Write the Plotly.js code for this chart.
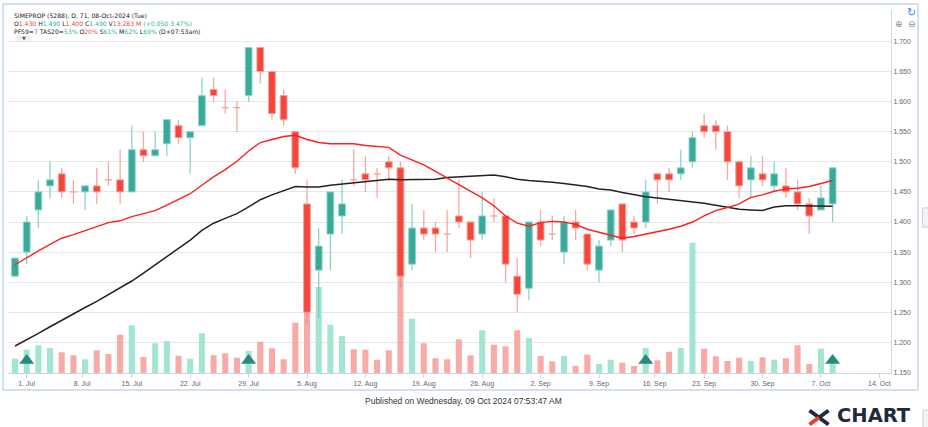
<!DOCTYPE html>
<html><head><meta charset="utf-8">
<script src="https://cdn.plot.ly/plotly-3.0.1.min.js"></script>
<style>html,body{margin:0;padding:0;background:#fff}#chart{width:928px;height:427px}</style>
</head><body><div id="chart"></div>
<script>
// ---------------- DATA ----------------
const dates = [
 '2024-06-28',
 '2024-07-01','2024-07-02','2024-07-03','2024-07-04','2024-07-05',
 '2024-07-09','2024-07-10','2024-07-11','2024-07-12',
 '2024-07-15','2024-07-16','2024-07-17','2024-07-18','2024-07-19',
 '2024-07-22','2024-07-23','2024-07-24','2024-07-25','2024-07-26',
 '2024-07-29','2024-07-30','2024-07-31','2024-08-01','2024-08-02',
 '2024-08-05','2024-08-06','2024-08-07','2024-08-08','2024-08-09',
 '2024-08-12','2024-08-13','2024-08-14','2024-08-15','2024-08-16',
 '2024-08-19','2024-08-20','2024-08-21','2024-08-22','2024-08-23',
 '2024-08-26','2024-08-27','2024-08-28','2024-08-29','2024-08-30',
 '2024-09-02','2024-09-03','2024-09-04','2024-09-05','2024-09-06',
 '2024-09-09','2024-09-10','2024-09-11','2024-09-12','2024-09-13',
 '2024-09-17','2024-09-18','2024-09-19','2024-09-20',
 '2024-09-23','2024-09-24','2024-09-25','2024-09-26','2024-09-27',
 '2024-09-30','2024-10-01','2024-10-02','2024-10-03','2024-10-04',
 '2024-10-07','2024-10-08'
];
const open = [1.31,1.35,1.42,1.46,1.48,1.45,1.45,1.46,1.47,1.47,1.45,1.52,1.51,1.53,1.56,1.54,1.56,1.62,1.59,1.59,
 1.61,1.69,1.65,1.61,1.55,1.43,1.32,1.38,1.41,1.47,1.48,1.48,1.50,1.49,1.33,1.39,1.39,1.38,1.41,1.40,
 1.38,1.41,1.41,1.31,1.29,1.40,1.38,1.35,1.40,1.38,1.32,1.37,1.43,1.40,1.40,1.48,1.48,1.48,1.50,1.56,
 1.56,1.55,1.50,1.47,1.48,1.46,1.46,1.45,1.43,1.42,1.43];
const high = [1.34,1.41,1.47,1.50,1.49,1.47,1.46,1.49,1.50,1.52,1.56,1.55,1.55,1.57,1.57,1.55,1.64,1.64,1.62,1.60,
 1.69,1.69,1.65,1.62,1.55,1.47,1.39,1.45,1.47,1.52,1.51,1.49,1.51,1.50,1.43,1.42,1.40,1.42,1.47,1.40,
 1.45,1.44,1.41,1.34,1.40,1.42,1.41,1.41,1.42,1.38,1.37,1.42,1.43,1.41,1.47,1.48,1.49,1.52,1.55,1.58,
 1.57,1.56,1.50,1.51,1.51,1.50,1.49,1.47,1.44,1.46,1.49];
const low = [1.31,1.33,1.39,1.44,1.44,1.43,1.42,1.43,1.46,1.43,1.45,1.50,1.51,1.51,1.53,1.48,1.56,1.60,1.58,1.55,
 1.60,1.63,1.57,1.56,1.48,1.23,1.24,1.32,1.38,1.46,1.45,1.44,1.47,1.29,1.32,1.37,1.35,1.35,1.39,1.34,
 1.37,1.40,1.30,1.25,1.27,1.36,1.37,1.33,1.37,1.32,1.30,1.36,1.35,1.38,1.39,1.43,1.45,1.47,1.49,1.54,
 1.52,1.47,1.44,1.44,1.46,1.45,1.44,1.42,1.38,1.42,1.40];
const close = [1.34,1.40,1.45,1.47,1.45,1.45,1.46,1.45,1.47,1.45,1.52,1.51,1.52,1.57,1.54,1.55,1.61,1.61,1.59,1.59,
 1.69,1.65,1.58,1.57,1.49,1.25,1.36,1.45,1.43,1.47,1.47,1.48,1.49,1.31,1.39,1.38,1.38,1.38,1.40,1.37,
 1.41,1.41,1.33,1.28,1.40,1.37,1.38,1.40,1.39,1.33,1.36,1.42,1.37,1.39,1.45,1.47,1.47,1.49,1.54,1.55,
 1.55,1.50,1.46,1.49,1.47,1.48,1.45,1.43,1.41,1.44,1.49];
// volume, millions of shares
const volume = [14.3,23.3,27.7,25.0,20.7,17.7,13.7,22.7,19.0,38.3,47.7,16.0,29.7,32.0,17.3,14.3,39.7,17.7,19.7,15.3,
 22.0,31.3,24.7,13.7,50.3,70.0,86.0,48.3,37.0,23.7,23.3,13.3,22.7,100.0,54.3,29.7,14.7,13.7,33.7,17.7,
 42.7,28.3,26.7,42.7,35.0,17.0,11.7,17.0,7.0,18.3,9.0,13.3,10.3,7.0,25.0,12.7,21.3,25.0,130.3,24.3,
 16.7,12.0,15.3,12.0,15.7,13.3,14.7,27.7,9.0,24.3,13.283];
const ma20 = [1.329,1.341,1.352,1.363,1.373,1.379,1.386,1.392,1.399,1.402,1.409,1.414,1.419,1.428,1.438,1.447,1.461,1.475,1.487,1.501,
 1.518,1.532,1.537,1.542,1.544,1.537,1.532,1.530,1.530,1.530,1.527,1.526,1.524,1.511,1.503,1.495,1.484,1.473,1.463,1.452,
 1.440,1.427,1.410,1.398,1.393,1.399,1.401,1.400,1.396,1.388,1.383,1.379,1.373,1.376,1.380,1.383,1.388,1.393,1.400,1.410,
 1.419,1.424,1.430,1.441,1.445,1.451,1.455,1.456,1.459,1.464,1.469];
const ma50 = [1.194,1.204,1.215,1.226,1.237,1.248,1.258,1.268,1.279,1.290,1.302,1.315,1.329,1.342,1.356,1.370,1.386,1.398,1.406,1.414,
 1.425,1.437,1.445,1.452,1.459,1.458,1.458,1.461,1.463,1.465,1.468,1.469,1.471,1.470,1.470,1.470,1.471,1.474,1.475,1.476,
 1.478,1.478,1.475,1.471,1.469,1.468,1.466,1.464,1.462,1.459,1.455,1.453,1.449,1.445,1.442,1.440,1.438,1.435,1.433,1.431,
 1.428,1.424,1.421,1.420,1.419,1.425,1.427,1.427,1.427,1.426,1.426];
const signalDates = ['2024-07-01','2024-07-29','2024-09-13','2024-10-08'];
const tickDates = ['2024-07-01','2024-07-08','2024-07-15','2024-07-22','2024-07-29','2024-08-05','2024-08-12','2024-08-19',
 '2024-08-26','2024-09-02','2024-09-09','2024-09-16','2024-09-23','2024-09-30','2024-10-07','2024-10-14'];
const tickLabels = ['1. Jul','8. Jul','15. Jul','22. Jul','29. Jul','5. Aug','12. Aug','19. Aug',
 '26. Aug','2. Sep','9. Sep','16. Sep','23. Sep','30. Sep','7. Oct','14. Oct'];
const priceTicks = [1.15,1.20,1.25,1.30,1.35,1.40,1.45,1.50,1.55,1.60,1.65,1.70];

// ---------------- STYLE ----------------
const C = {
  upBody:'#38aa9a', dnBody:'#f4463a', upWick:'rgba(100,196,180,0.75)', dnWick:'rgba(243,130,124,0.7)',
  upVol:'#a2e5d1', dnVol:'#f8aaa7', doji:'#f5a09b', sig:'#2b8a7e', ma20:'#ff1f1f', ma50:'#222222',
  grid:'#e6e6e6', axis:'#ccd6eb', tick:'#666666'
};
const FONT = 'Liberation Sans, Arial, sans-serif';
const HFONT = 'DejaVu Sans, Verdana, sans-serif';
const BODY_W = 0.58, WICK_W = 0.11, VOL_W = 0.52, DOJI_H = 0.0022, SIGNAL_LEVEL = 12.5;

// ---------------- HELPERS ----------------
const idx = dates.map((d,i)=>i);
const dayNum = s => Date.parse(s+'T00:00:00Z')/86400000;
const dnums = dates.map(dayNum);
function ordinalPos(s){
  const t = dayNum(s);
  const k = dnums.indexOf(t); if(k>=0) return k;
  for(let i=0;i<dnums.length-1;i++){ if(t>dnums[i] && t<dnums[i+1]) return i+(t-dnums[i])/(dnums[i+1]-dnums[i]); }
  const last = dnums[dnums.length-1];
  if(t>last){ let n=0; for(let d=last+1; d<=t; d++){ const wd=new Date(d*86400000).getUTCDay(); if(wd!==0&&wd!==6) n++; } return dnums.length-1+n; }
  return 0;
}
const isUp = i => close[i] > open[i];
const isDoji = i => close[i] === open[i];
const sel = (f) => idx.filter(f);
const upI = sel(i=>isUp(i)), dnI = sel(i=>!isUp(i)&&!isDoji(i)), djI = sel(i=>isDoji(i));
const volUp = sel(i=>isUp(i)), volDn = sel(i=>!isUp(i));

// pixel -> paper helpers (plot area: x 8..891, y 10..373)
const PL=8, PR=891, PT=10, PB=373;
const PX = px => (px-PL)/(PR-PL);
const PY = py => (PB-py)/(PB-PT);

const traces = [];
traces.push({type:'bar', x:volUp, y:volUp.map(i=>volume[i]), width:VOL_W, marker:{color:C.upVol}, yaxis:'y', hoverinfo:'skip'});
traces.push({type:'bar', x:volDn, y:volDn.map(i=>volume[i]), width:VOL_W, marker:{color:C.dnVol}, yaxis:'y', hoverinfo:'skip'});
const sigI = signalDates.map(d=>dates.indexOf(d));
traces.push({type:'scatter', mode:'markers', x:sigI, y:sigI.map(()=>SIGNAL_LEVEL), yaxis:'y',
  marker:{symbol:'triangle-up', size:13, color:C.sig}, hoverinfo:'skip'});
// wicks
const upW = sel(i=>isUp(i)), dnW = sel(i=>!isUp(i));
traces.push({type:'bar', x:upW, base:upW.map(i=>low[i]), y:upW.map(i=>high[i]-low[i]), width:WICK_W, marker:{color:C.upWick}, yaxis:'y2', hoverinfo:'skip'});
traces.push({type:'bar', x:dnW, base:dnW.map(i=>low[i]), y:dnW.map(i=>high[i]-low[i]), width:WICK_W, marker:{color:C.dnWick}, yaxis:'y2', hoverinfo:'skip'});
// bodies
traces.push({type:'bar', x:upI, base:upI.map(i=>open[i]), y:upI.map(i=>close[i]-open[i]), width:BODY_W,
  marker:{color:C.upBody, line:{color:'#8fd3c8', width:1}}, yaxis:'y2', hoverinfo:'skip'});
traces.push({type:'bar', x:dnI, base:dnI.map(i=>close[i]), y:dnI.map(i=>open[i]-close[i]), width:BODY_W,
  marker:{color:C.dnBody, line:{color:'#f7a19b', width:1}}, yaxis:'y2', hoverinfo:'skip'});
traces.push({type:'bar', x:djI, base:djI.map(i=>close[i]-DOJI_H/2), y:djI.map(()=>DOJI_H), width:BODY_W,
  marker:{color:C.doji}, yaxis:'y2', hoverinfo:'skip'});
// moving averages
traces.push({type:'scatter', mode:'lines', x:idx, y:ma50, line:{color:C.ma50, width:1.5}, yaxis:'y2', hoverinfo:'skip'});
traces.push({type:'scatter', mode:'lines', x:idx, y:ma20, line:{color:C.ma20, width:1.4}, yaxis:'y2', hoverinfo:'skip'});

// header text from last bar
const L = dates.length-1;
const red='#f0443c', grn='#22b892', blu='#3b73d9';
const sp = (c,t)=>`<span style="color:${c}">${t}</span>`;
const chg = close[L]-close[L-1], pct = chg/close[L-1]*100;
const dt = new Date(dnums[L]*86400000);
const mon = ['Jan','Feb','Mar','Apr','May','Jun','Jul','Aug','Sep','Oct','Nov','Dec'][dt.getUTCMonth()];
const wday = ['Sun','Mon','Tue','Wed','Thu','Fri','Sat'][dt.getUTCDay()];
const line1 = `SIMEPROP (5288), D, ${dates.length}, ${String(dt.getUTCDate()).padStart(2,'0')}-${mon}-${dt.getUTCFullYear()} (${wday})`;
const line2 = `O${sp(red,open[L].toFixed(3))} H${sp(grn,high[L].toFixed(3))} L${sp(red,low[L].toFixed(3))} C${sp(grn,close[L].toFixed(3))} V${sp(red,volume[L].toFixed(3)+' M')} ${sp(grn,'(+'+chg.toFixed(3)+' '+pct.toFixed(2)+'%)')}`;
const line3 = `PFS9=${sp(blu,'7')} TAS20=${sp(grn,'53%')} O${sp(red,'20%')} S${sp(grn,'61%')} M${sp(grn,'62%')} L${sp(grn,'69%')} (D+07:53am)`;

const ann = (px,py,text,opts={}) => Object.assign({xref:'paper',yref:'paper',x:PX(px),y:PY(py),text:text,showarrow:false,
  xanchor:'left',yanchor:'middle',font:{family:HFONT,size:6.1,color:'#222'}},opts);

const annotations = [
  ann(11.5,15,line1), ann(11.5,23.2,line2), ann(11.5,31,line3),
  ann(23.5,38,'▼',{xanchor:'center',font:{family:'DejaVu Sans',size:5,color:'#555'}}),
  ann(463.5,401,'Published on Wednesday, 09 Oct 2024 07:53:47 AM',{xanchor:'center',font:{family:FONT,size:8.5,color:'#333'}}),
  ann(874,415.5,'CHART',{xanchor:'center',font:{family:'DejaVu Sans',size:19.5,color:'#1e2b3c',weight:'bold'}}),
  ann(911.5,13,'↻',{xanchor:'center',font:{family:'DejaVu Sans',size:11,color:'#4a8fe0'}}),
  ann(898.5,24,'⊕',{xanchor:'center',font:{family:'DejaVu Sans',size:9,color:'#888'}}),
  ann(911.5,24,'⊖',{xanchor:'center',font:{family:'DejaVu Sans',size:9,color:'#888'}})
];
const shp = (x0,y0,x1,y1,o) => Object.assign({type:'rect',xref:'paper',yref:'paper',x0:PX(x0),x1:PX(x1),y0:PY(y1),y1:PY(y0),layer:'above'},o);
const ln = (x0,y0,x1,y1,color,w) => ({type:'line',xref:'paper',yref:'paper',x0:PX(x0),y0:PY(y0),x1:PX(x1),y1:PY(y1),line:{color:color,width:w},layer:'above'});
const shapes = [
  shp(3,4,918,390,{line:{color:'#a8c2ea',width:1},fillcolor:'rgba(0,0,0,0)'}),
  shp(16.5,35.5,30.5,40.5,{line:{width:0},fillcolor:'#ececec',layer:'below'}),
  shp(922.5,208,929,227,{line:{color:'#cfcfcf',width:1},fillcolor:'#f3f3f3'}),
  shp(923,410,929,428,{line:{color:'#cfcfcf',width:1},fillcolor:'#f3f3f3'}),
  ln(809.5,410.5,828.5,424.5,'#1e2b3c',4),
  ln(828.5,410.5,819,417.5,'#1e2b3c',4),
  ln(819,417.5,809.5,424.5,'#e8412c',4)
];

const layout = {
  width:928, height:427, margin:{l:PL,r:928-PR,t:PT,b:427-PB,pad:0},
  paper_bgcolor:'#fff', plot_bgcolor:'#fff', showlegend:false, barmode:'overlay',
  font:{family:FONT,size:7,color:C.tick},
  xaxis:{range:[-0.6,75], tickvals:tickDates.map(ordinalPos), ticktext:tickLabels, showgrid:false, zeroline:false,
    showline:true, linecolor:C.axis, linewidth:1, ticks:'outside', ticklen:4, tickcolor:C.axis, tickwidth:1,
    tickfont:{family:FONT,size:7,color:C.tick}, fixedrange:true},
  yaxis:{range:[0,PB-PT], visible:false, fixedrange:true},
  yaxis2:{overlaying:'y', side:'right', range:[1.15-(0.5/602), 1.15-(0.5/602)+(PB-PT)/602], tickvals:priceTicks,
    ticktext:priceTicks.map(v=>v.toFixed(3)), showgrid:true, gridcolor:C.grid, gridwidth:1, zeroline:false,
    showline:true, linecolor:C.axis, ticks:'', tickfont:{family:FONT,size:7,color:C.tick}, fixedrange:true},
  annotations:annotations, shapes:shapes
};
Plotly.newPlot('chart', traces, layout, {displayModeBar:false, staticPlot:true});
</script></body></html>
